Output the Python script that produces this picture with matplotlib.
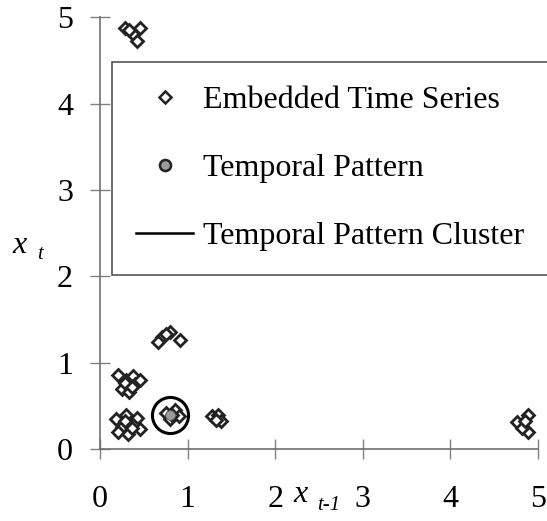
import matplotlib
matplotlib.use("Agg")
import matplotlib.pyplot as plt
from matplotlib.lines import Line2D

plt.rcParams["font.family"] = ["Liberation Serif", "DejaVu Serif"]

# embedded time series (x_{t-1}, x_t)
series_x = [0.28, 0.46, 0.37, 0.42, 0.33,
            4.76, 4.89, 4.89, 4.82, 4.85,
            0.71, 0.80, 0.91, 0.66, 0.75,
            0.20, 0.30, 0.38, 0.25, 0.40, 0.33, 0.45, 0.28, 0.36,
            0.18, 0.30, 0.42, 0.25, 0.38, 0.20, 0.32, 0.45, 0.28, 0.36,
            0.75, 0.85, 0.80, 0.90, 0.82,
            1.28, 1.35, 1.38, 1.32]
series_y = [4.87, 4.87, 4.81, 4.73, 4.85,
            0.31, 0.39, 0.20, 0.25, 0.33,
            1.30, 1.35, 1.26, 1.24, 1.33,
            0.86, 0.80, 0.85, 0.70, 0.75, 0.66, 0.80, 0.76, 0.72,
            0.35, 0.40, 0.36, 0.26, 0.28, 0.20, 0.17, 0.23, 0.32, 0.25,
            0.42, 0.45, 0.35, 0.38, 0.40,
            0.38, 0.40, 0.32, 0.34]
pattern_x = [0.8]
pattern_y = [0.4]
cluster_x = [0.8]
cluster_y = [0.4]
ticks = [0, 1, 2, 3, 4, 5]

fig = plt.figure(figsize=(5.47, 5.21), dpi=100)
ax = fig.add_axes([0.183, 0.138, 0.8005, 0.829])

ax.plot(series_x, series_y, linestyle="none", marker="D", markersize=6.5,
        markerfacecolor="white", markeredgecolor="#222222", markeredgewidth=2.0,
        clip_on=False, zorder=3)
ax.plot(pattern_x, pattern_y, linestyle="none", marker="o", markersize=7,
        markerfacecolor="#9a9a9a", markeredgecolor="#555555", markeredgewidth=0.6,
        zorder=4)
ax.plot(cluster_x, cluster_y, linestyle="none", marker="o", markersize=26,
        markerfacecolor="none", markeredgecolor="black", markeredgewidth=2.2,
        zorder=5)

ax.set_xlim(0, 5)
ax.set_ylim(0, 5)
ax.set_xticks(ticks)
ax.set_yticks(ticks)
for side in ["top", "right"]:
    ax.spines[side].set_visible(False)
for side in ["left", "bottom"]:
    ax.spines[side].set_color("#707070")
    ax.spines[side].set_linewidth(1.2)
ax.tick_params(direction="inout", length=15, width=1, color="#808080",
               labelsize=23)
ax.tick_params(axis="x", pad=18)
ax.tick_params(axis="y", pad=12)

fig.text(0.022, 0.515, "x", fontsize=23, style="italic")
fig.text(0.068, 0.502, "t", fontsize=15, style="italic")
fig.text(0.537, 0.037, "x", fontsize=23, style="italic")
fig.text(0.580, 0.022, "t-1", fontsize=15, style="italic")

handles = [
    Line2D([], [], linestyle="none", marker="D", markersize=6,
           markerfacecolor="white", markeredgecolor="#222222", markeredgewidth=1.8),
    Line2D([], [], linestyle="none", marker="o", markersize=8,
           markerfacecolor="#9a9a9a", markeredgecolor="#222222", markeredgewidth=1.8),
    Line2D([], [], color="black", lw=1.8),
]
labels = ["Embedded Time Series", "Temporal Pattern", "Temporal Pattern Cluster"]
leg = ax.legend(handles, labels, loc="upper left",
                bbox_to_anchor=(112 / 547, 1 - 62 / 521), bbox_transform=fig.transFigure,
                fontsize=23, frameon=True, fancybox=False, framealpha=1,
                edgecolor="#555555", borderpad=0.75, labelspacing=1.2,
                handlelength=1.8, handletextpad=0.3, borderaxespad=0)
leg.get_frame().set_linewidth(1.2)

fig.savefig("out.png", dpi=100)
